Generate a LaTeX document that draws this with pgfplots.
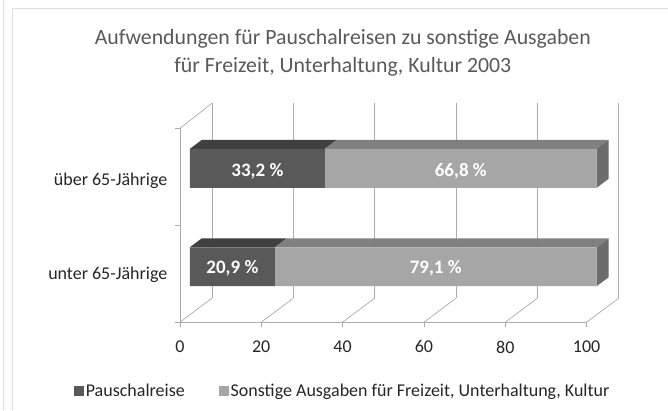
\documentclass[border=0pt]{standalone}
\usepackage{pgfplots}
\pgfplotsset{compat=1.18}
\usepackage{fontspec}
\setmainfont{Carlito}
\definecolor{dkF}{HTML}{595959}
\definecolor{dkT}{HTML}{404040}
\definecolor{ltF}{HTML}{A6A6A6}
\definecolor{ltT}{HTML}{808080}
\definecolor{ltS}{HTML}{6C6C6C}
\definecolor{gridc}{HTML}{ABABAB}
\definecolor{txt}{HTML}{262626}
\definecolor{titc}{HTML}{595959}
\definecolor{frm}{HTML}{DDDDDD}
\pgfplotsset{base/.style={x=4.07pt,y=1pt,xmin=-2.46,xmax=97.54,ymin=0,ymax=194,clip=false,
  /pgf/number format/assume math mode=true}}
\begin{document}
\begin{tikzpicture}
% ---- axis 1: walls, ticks, 3D faces
\begin{axis}[base,
  axis x line*=bottom, axis y line*=left,
  axis line style={draw=gridc,-,line width=0.7pt},
  xtick={-2.46,17.54,37.54,57.54,77.54,97.54},
  xticklabels={0,20,40,60,80,100},
  tick align=outside, major tick length=5pt,
  tick style={draw=gridc,line width=0.7pt},
  ytick={0,97,194}, yticklabels={},
  extra y ticks={47,142},
  extra y tick labels={unter 65-Jährige,über 65-Jährige},
  extra y tick style={major tick length=0pt,
    yticklabel style={xshift=-9pt, font=\fontsize{18}{21}\selectfont, text=txt}},
  xticklabel style={font=\fontsize{18}{21}\selectfont, text=txt, yshift=-10pt},
  yticklabel style={font=\fontsize{18}{21}\selectfont, text=txt},
  title={Aufwendungen für Pauschalreisen zu sonstige Ausgaben\\für Freizeit, Unterhaltung, Kultur 2003},
  title style={at={(axis description cs:0.4005,1.361)}, anchor=center, align=center,
    font=\fontsize{21.8}{28}\selectfont, text=titc},
]
% bounding box = 668 x 410 px
\path (axis cs:-46.68,322) rectangle (axis cs:117.44,-88);
% chart frame
\draw[frm, line width=0.8pt] (axis cs:-43.73,-88) -- (axis cs:-43.73,314) -- (axis cs:117.44,314);
\draw[frm, line width=0.8pt] (axis cs:-45.95,-88) -- (axis cs:-45.95,322);
% back wall verticals
\draw[gridc, line width=0.7pt] (axis cs:5.41,24) -- (axis cs:5.41,219);
\draw[gridc, line width=0.7pt] (axis cs:25.41,24) -- (axis cs:25.41,219);
\draw[gridc, line width=0.7pt] (axis cs:45.41,24) -- (axis cs:45.41,219);
\draw[gridc, line width=0.7pt] (axis cs:65.41,24) -- (axis cs:65.41,219);
\draw[gridc, line width=0.7pt] (axis cs:85.41,24) -- (axis cs:85.41,219);
\draw[gridc, line width=0.7pt] (axis cs:105.41,24) -- (axis cs:105.41,219);
% floor diagonals
\draw[gridc, line width=0.7pt] (axis cs:-2.46,0) -- (axis cs:5.41,24);
\draw[gridc, line width=0.7pt] (axis cs:17.54,0) -- (axis cs:25.41,24);
\draw[gridc, line width=0.7pt] (axis cs:37.54,0) -- (axis cs:45.41,24);
\draw[gridc, line width=0.7pt] (axis cs:57.54,0) -- (axis cs:65.41,24);
\draw[gridc, line width=0.7pt] (axis cs:77.54,0) -- (axis cs:85.41,24);
\draw[gridc, line width=0.7pt] (axis cs:97.54,0) -- (axis cs:105.41,24);
% left wall top edge
\draw[gridc, line width=0.7pt] (axis cs:-2.46,194) -- (axis cs:5.41,219);
% 3D faces of the bars (top and right side)
\addplot[fill=dkT, draw=none] coordinates {(0,173.5) (33.2,173.5) (36.15,182.5) (2.95,182.5)} -- cycle;
\addplot[fill=ltT, draw=none] coordinates {(33.2,173.5) (100,173.5) (102.95,182.5) (36.15,182.5)} -- cycle;
\addplot[fill=ltS, draw=none] coordinates {(100,134.5) (102.95,143.5) (102.95,182.5) (100,173.5)} -- cycle;
\addplot[fill=dkT, draw=none] coordinates {(0,75) (20.9,75) (23.85,84) (2.95,84)} -- cycle;
\addplot[fill=ltT, draw=none] coordinates {(20.9,75) (100,75) (102.95,84) (23.85,84)} -- cycle;
\addplot[fill=ltS, draw=none] coordinates {(100,36) (102.95,45) (102.95,84) (100,75)} -- cycle;
\end{axis}
% ---- axis 2: stacked bars (front faces) and legend
\begin{axis}[base, hide axis, xbar stacked, bar width=39,
  legend columns=2,
  legend style={at={(axis description cs:0.40,-0.355)}, anchor=center, draw=none, fill=none,
    font=\fontsize{18}{21}\selectfont, text=txt,
    /tikz/every even column/.append style={column sep=32pt}},
  legend image code/.code={\fill[#1] (0pt,-5pt) rectangle (10pt,5pt);},
]
\addplot[fill=dkF, draw=none] coordinates {(20.9,55.5) (33.2,154)};
\addlegendentry{Pauschalreise}
\addplot[fill=ltF, draw=none] coordinates {(79.1,55.5) (66.8,154)};
\addlegendentry{Sonstige Ausgaben für Freizeit, Unterhaltung, Kultur}
\end{axis}
% ---- axis 3: value labels
\begin{axis}[base, hide axis]
\addplot[draw=none, mark=none, point meta=explicit,
  nodes near coords={\pgfmathprintnumber[fixed,fixed zerofill,precision=1,use comma]{\pgfplotspointmeta}~\%},
  nodes near coords align=center,
  nodes near coords style={font=\bfseries\fontsize{19}{22}\selectfont, text=white}]
  table[x=x, y=y, meta=v] {
x y v
16.6 151 33.2
66.6 151 66.8
10.45 54.5 20.9
60.45 54.5 79.1
};
\end{axis}
\end{tikzpicture}
\end{document}
